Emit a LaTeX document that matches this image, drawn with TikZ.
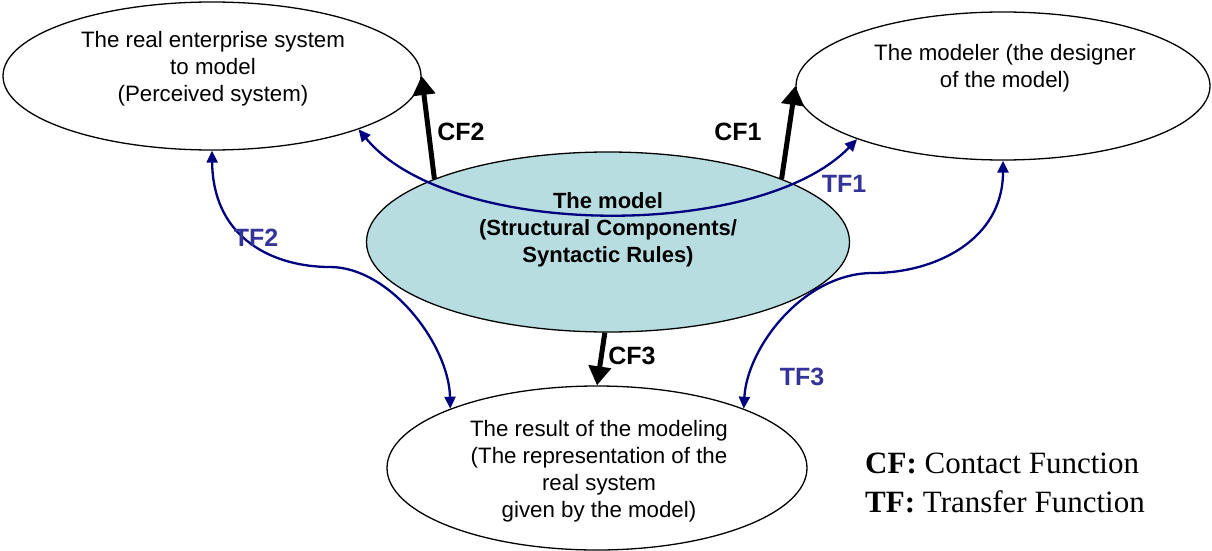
\documentclass[tikz,border=0pt]{standalone}
\usepackage{fontspec}
\setmainfont{Liberation Sans}
\newfontfamily\timesfont{Liberation Serif}
\usetikzlibrary{shapes.geometric,arrows.meta}
\definecolor{modelfill}{RGB}{183,221,224}
\definecolor{tfline}{RGB}{0,0,128}
\definecolor{tflabel}{RGB}{51,51,153}
\begin{document}
\begin{tikzpicture}[x=1pt,y=-1pt,
  oval/.style={ellipse, draw=black, line width=1.3pt, inner sep=0pt},
  ovaltext/.style={align=center, font=\fontsize{22.3}{27}\selectfont},
  cfarrow/.style={line width=5pt, -{Triangle[length=19pt,width=22pt]}},
  tfarrow/.style={draw=tfline, line width=2.3pt, {Triangle[length=12pt,width=11pt]}-{Triangle[length=12pt,width=11pt]}},
  cflabel/.style={font=\bfseries\fontsize{25}{30}\selectfont},
  tflab/.style={font=\bfseries\fontsize{25}{30}\selectfont, text=tflabel},
  legend/.style={anchor=base west, inner sep=0pt, font=\timesfont\fontsize{31}{38}\selectfont}]
\useasboundingbox (0,0) rectangle (1212,551);
% ellipses
\node[oval, minimum width=418pt, minimum height=148pt] (real) at (212,76) {};
\node[oval, minimum width=414pt, minimum height=148pt] (modeler) at (1003,86) {};
\node[oval, fill=modelfill, minimum width=483pt, minimum height=180pt] (model) at (608,242) {};
\node[oval, minimum width=420pt, minimum height=164pt] (result) at (597,468) {};
% texts
\node[ovaltext] (realtext) at (213,69) {The real enterprise system\\to model\\(Perceived system)};
\node[ovaltext] (modelertext) at (1005,68) {The modeler (the designer\\of the model)};
\node[ovaltext, font=\bfseries\fontsize{22}{27}\selectfont] (modeltext) at (608,230) {The model\\(Structural Components/\\Syntactic Rules)};
\node[ovaltext] (resulttext) at (599,471) {The result of the modeling\\(The representation of the\\real system\\given by the model)};
% contact functions
\draw[cfarrow] (model.160) -- (real.east);
\draw[cfarrow] (model.20) -- (modeler.west);
\draw[cfarrow] (model.268) -- (result.north);
% transfer functions
\draw[tfarrow] (real.-20) .. controls (450,240) and (760,240) .. (modeler.200);
\draw[tfarrow] (real.south) .. controls (213,240) and (275,267) .. (330,267) .. controls (390,267) and (449,345) .. (result.158);
\draw[tfarrow] (modeler.south) .. controls (1003,240) and (935,273) .. (873,273) .. controls (803,273) and (747,348) .. (result.22);
% labels
\node[cflabel] (cf2) at (461,132) {CF2};
\node[cflabel] (cf1) at (738,132) {CF1};
\node[cflabel] (cf3) at (632,356) {CF3};
\node[tflab] (tf1) at (844,184) {TF1};
\node[tflab] (tf2) at (256,238) {TF2};
\node[tflab] (tf3) at (802,377) {TF3};
% legend
\node[legend] (legcf) at (865,473) {\textbf{CF:} Contact Function};
\node[legend] (legtf) at (865,512) {\textbf{TF:} Transfer Function};
\end{tikzpicture}
\end{document}
